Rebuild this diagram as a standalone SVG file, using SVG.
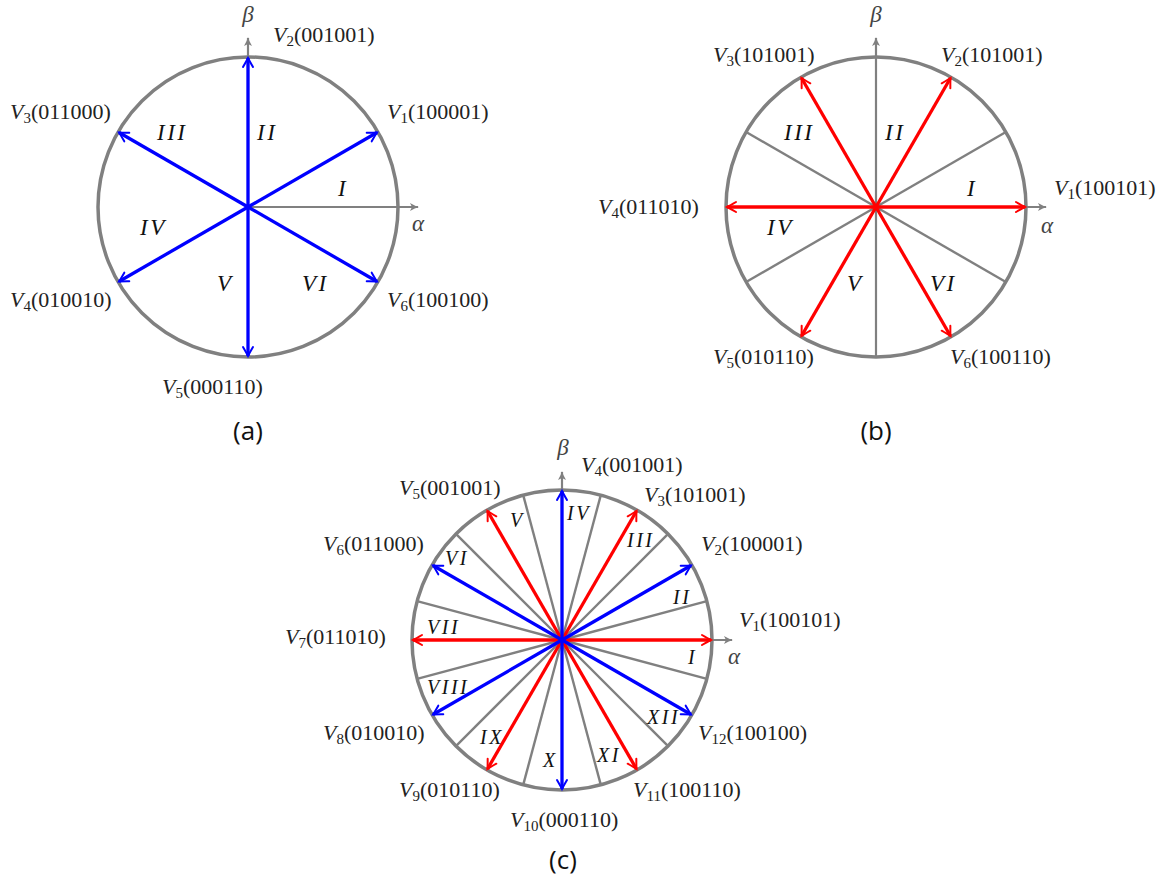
<svg xmlns="http://www.w3.org/2000/svg" width="1159" height="880" viewBox="0 0 1159 880">
<defs>
<style>
.circ{fill:none;stroke:#808080;stroke-width:3.5}
.gl{stroke:#808080;stroke-width:2.4;fill:none}
.ax{stroke:#808080;stroke-width:2.2;fill:none;marker-end:url(#mg)}
.bl{stroke:#0000ff;stroke-width:3.3;fill:none;marker-end:url(#mb)}
.rd{stroke:#ff0000;stroke-width:3.3;fill:none;marker-end:url(#mr)}
.lab{font-family:"Liberation Serif",serif;font-size:22px;fill:#222}
.lab .v{font-style:italic}
.sec{font-family:"Liberation Serif",serif;font-size:23px;font-style:italic;letter-spacing:2.5px;fill:#111}
.sec2{font-family:"Liberation Serif",serif;font-size:20px;font-style:italic;letter-spacing:2.5px;fill:#111}
.gk{font-family:"Liberation Serif",serif;font-size:23px;font-style:italic;fill:#444;text-anchor:middle}
.cap{font-family:"Open Sans",sans-serif;font-size:26px;fill:#111;text-anchor:middle}
</style>
<marker id="mb" viewBox="-10 -6 12 12" markerWidth="12" markerHeight="12" refX="0" refY="0" orient="auto" markerUnits="userSpaceOnUse" overflow="visible"><path d="M-9,-5 Q-3,-1.5 0,0 Q-3,1.5 -9,5" fill="none" stroke="#0000ff" stroke-width="2" stroke-linecap="round"/></marker>
<marker id="mr" viewBox="-10 -6 12 12" markerWidth="12" markerHeight="12" refX="0" refY="0" orient="auto" markerUnits="userSpaceOnUse" overflow="visible"><path d="M-9,-5 Q-3,-1.5 0,0 Q-3,1.5 -9,5" fill="none" stroke="#ff0000" stroke-width="2" stroke-linecap="round"/></marker>
<marker id="mg" viewBox="-10 -6 12 12" markerWidth="12" markerHeight="12" refX="0" refY="0" orient="auto" markerUnits="userSpaceOnUse" overflow="visible"><path d="M-8,-4 Q-3,-1 1,0 Q-3,1 -8,4 L-6,0 Z" fill="#808080" stroke="none"/></marker>
</defs>
<rect width="1159" height="880" fill="#fff"/>

<!-- Panel (a) -->
<g id="panel-a">
<circle class="circ" cx="248" cy="207" r="150"/>
<g id="connectors-a">
<line class="ax" x1="248" y1="207" x2="418" y2="207"/>
<line class="ax" x1="248" y1="207" x2="248" y2="38"/>
<line class="bl" x1="248" y1="207" x2="377" y2="132.5"/>
<line class="bl" x1="248" y1="207" x2="248" y2="58"/>
<line class="bl" x1="248" y1="207" x2="119" y2="132.5"/>
<line class="bl" x1="248" y1="207" x2="119" y2="281.5"/>
<line class="bl" x1="248" y1="207" x2="248" y2="356"/>
<line class="bl" x1="248" y1="207" x2="377" y2="281.5"/>
</g>
<g id="labels-a">
<text class="gk" x="248" y="22">β</text>
<text class="gk" x="418" y="231">α</text>
<text class="lab" x="273" y="42"><tspan class="v">V</tspan><tspan font-size="15" dy="4">2</tspan><tspan dy="-4">(001001)</tspan></text>
<text class="lab" x="387" y="119"><tspan class="v">V</tspan><tspan font-size="15" dy="4">1</tspan><tspan dy="-4">(100001)</tspan></text>
<text class="lab" x="10" y="119"><tspan class="v">V</tspan><tspan font-size="15" dy="4">3</tspan><tspan dy="-4">(011000)</tspan></text>
<text class="lab" x="10" y="307"><tspan class="v">V</tspan><tspan font-size="15" dy="4">4</tspan><tspan dy="-4">(010010)</tspan></text>
<text class="lab" x="387" y="307"><tspan class="v">V</tspan><tspan font-size="15" dy="4">6</tspan><tspan dy="-4">(100100)</tspan></text>
<text class="lab" x="162" y="394"><tspan class="v">V</tspan><tspan font-size="15" dy="4">5</tspan><tspan dy="-4">(000110)</tspan></text>
<text class="sec" x="157" y="140">III</text>
<text class="sec" x="257" y="140">II</text>
<text class="sec" x="338" y="196">I</text>
<text class="sec" x="140" y="235">IV</text>
<text class="sec" x="217" y="291">V</text>
<text class="sec" x="302" y="291">VI</text>
<text class="cap" x="248" y="440">(a)</text>
</g>
</g>

<!-- Panel (b) -->
<g id="panel-b">
<circle class="circ" cx="876" cy="207" r="150"/>
<g id="connectors-b">
<line class="gl" x1="876" y1="207" x2="1005.9" y2="132"/>
<line class="gl" x1="876" y1="207" x2="746.1" y2="132"/>
<line class="gl" x1="876" y1="207" x2="746.1" y2="282"/>
<line class="gl" x1="876" y1="207" x2="1005.9" y2="282"/>
<line class="ax" x1="876" y1="357" x2="876" y2="38"/>
<line class="ax" x1="876" y1="207" x2="1046" y2="207"/>
<line class="rd" x1="876" y1="207" x2="1025" y2="207"/>
<line class="rd" x1="876" y1="207" x2="950.5" y2="78"/>
<line class="rd" x1="876" y1="207" x2="801.5" y2="78"/>
<line class="rd" x1="876" y1="207" x2="727" y2="207"/>
<line class="rd" x1="876" y1="207" x2="801.5" y2="336"/>
<line class="rd" x1="876" y1="207" x2="950.5" y2="336"/>
</g>
<g id="labels-b">
<text class="gk" x="876" y="22">β</text>
<text class="gk" x="1047" y="233">α</text>
<text class="lab" x="713" y="62"><tspan class="v">V</tspan><tspan font-size="15" dy="4">3</tspan><tspan dy="-4">(101001)</tspan></text>
<text class="lab" x="941" y="62"><tspan class="v">V</tspan><tspan font-size="15" dy="4">2</tspan><tspan dy="-4">(101001)</tspan></text>
<text class="lab" x="1054" y="195"><tspan class="v">V</tspan><tspan font-size="15" dy="4">1</tspan><tspan dy="-4">(100101)</tspan></text>
<text class="lab" x="598" y="214"><tspan class="v">V</tspan><tspan font-size="15" dy="4">4</tspan><tspan dy="-4">(011010)</tspan></text>
<text class="lab" x="713" y="364"><tspan class="v">V</tspan><tspan font-size="15" dy="4">5</tspan><tspan dy="-4">(010110)</tspan></text>
<text class="lab" x="950" y="364"><tspan class="v">V</tspan><tspan font-size="15" dy="4">6</tspan><tspan dy="-4">(100110)</tspan></text>
<text class="sec" x="784" y="140">III</text>
<text class="sec" x="885" y="140">II</text>
<text class="sec" x="967" y="196">I</text>
<text class="sec" x="767" y="235">IV</text>
<text class="sec" x="847" y="291">V</text>
<text class="sec" x="930" y="291">VI</text>
<text class="cap" x="876" y="440">(b)</text>
</g>
</g>

<!-- Panel (c) -->
<g id="panel-c">
<circle class="circ" cx="562" cy="640" r="150"/>
<g id="connectors-c">
<line class="gl" x1="562" y1="640" x2="706.9" y2="601.2"/>
<line class="gl" x1="562" y1="640" x2="668.1" y2="533.9"/>
<line class="gl" x1="562" y1="640" x2="600.8" y2="495.1"/>
<line class="gl" x1="562" y1="640" x2="523.2" y2="495.1"/>
<line class="gl" x1="562" y1="640" x2="455.9" y2="533.9"/>
<line class="gl" x1="562" y1="640" x2="417.1" y2="601.2"/>
<line class="gl" x1="562" y1="640" x2="417.1" y2="678.8"/>
<line class="gl" x1="562" y1="640" x2="455.9" y2="746.1"/>
<line class="gl" x1="562" y1="640" x2="523.2" y2="784.9"/>
<line class="gl" x1="562" y1="640" x2="600.8" y2="784.9"/>
<line class="gl" x1="562" y1="640" x2="668.1" y2="746.1"/>
<line class="gl" x1="562" y1="640" x2="706.9" y2="678.8"/>
<line class="ax" x1="562" y1="640" x2="732" y2="640"/>
<line class="ax" x1="562" y1="640" x2="562" y2="472"/>
<line class="rd" x1="562" y1="640" x2="711" y2="640"/>
<line class="rd" x1="562" y1="640" x2="636.5" y2="511"/>
<line class="rd" x1="562" y1="640" x2="487.5" y2="511"/>
<line class="rd" x1="562" y1="640" x2="413" y2="640"/>
<line class="rd" x1="562" y1="640" x2="487.5" y2="769"/>
<line class="rd" x1="562" y1="640" x2="636.5" y2="769"/>
<line class="bl" x1="562" y1="640" x2="691" y2="565.5"/>
<line class="bl" x1="562" y1="640" x2="562" y2="491"/>
<line class="bl" x1="562" y1="640" x2="433" y2="565.5"/>
<line class="bl" x1="562" y1="640" x2="433" y2="714.5"/>
<line class="bl" x1="562" y1="640" x2="562" y2="789"/>
<line class="bl" x1="562" y1="640" x2="691" y2="714.5"/>
</g>
<g id="labels-c">
<text class="gk" x="563" y="455">β</text>
<text class="gk" x="734" y="664">α</text>
<text class="lab" x="581" y="472"><tspan class="v">V</tspan><tspan font-size="15" dy="4">4</tspan><tspan dy="-4">(001001)</tspan></text>
<text class="lab" x="399" y="495"><tspan class="v">V</tspan><tspan font-size="15" dy="4">5</tspan><tspan dy="-4">(001001)</tspan></text>
<text class="lab" x="644" y="502"><tspan class="v">V</tspan><tspan font-size="15" dy="4">3</tspan><tspan dy="-4">(101001)</tspan></text>
<text class="lab" x="323" y="551"><tspan class="v">V</tspan><tspan font-size="15" dy="4">6</tspan><tspan dy="-4">(011000)</tspan></text>
<text class="lab" x="701" y="551"><tspan class="v">V</tspan><tspan font-size="15" dy="4">2</tspan><tspan dy="-4">(100001)</tspan></text>
<text class="lab" x="739" y="627"><tspan class="v">V</tspan><tspan font-size="15" dy="4">1</tspan><tspan dy="-4">(100101)</tspan></text>
<text class="lab" x="285" y="644"><tspan class="v">V</tspan><tspan font-size="15" dy="4">7</tspan><tspan dy="-4">(011010)</tspan></text>
<text class="lab" x="323" y="740"><tspan class="v">V</tspan><tspan font-size="15" dy="4">8</tspan><tspan dy="-4">(010010)</tspan></text>
<text class="lab" x="698" y="740"><tspan class="v">V</tspan><tspan font-size="15" dy="4">12</tspan><tspan dy="-4">(100100)</tspan></text>
<text class="lab" x="399" y="797"><tspan class="v">V</tspan><tspan font-size="15" dy="4">9</tspan><tspan dy="-4">(010110)</tspan></text>
<text class="lab" x="633" y="797"><tspan class="v">V</tspan><tspan font-size="15" dy="4">11</tspan><tspan dy="-4">(100110)</tspan></text>
<text class="lab" x="510" y="827"><tspan class="v">V</tspan><tspan font-size="15" dy="4">10</tspan><tspan dy="-4">(000110)</tspan></text>
<text class="sec2" x="567" y="520">IV</text>
<text class="sec2" x="510" y="527">V</text>
<text class="sec2" x="627" y="547">III</text>
<text class="sec2" x="445" y="565">VI</text>
<text class="sec2" x="673" y="604">II</text>
<text class="sec2" x="427" y="634">VII</text>
<text class="sec2" x="688" y="664">I</text>
<text class="sec2" x="427" y="694">VIII</text>
<text class="sec2" x="647" y="724">XII</text>
<text class="sec2" x="480" y="744">IX</text>
<text class="sec2" x="597" y="762">XI</text>
<text class="sec2" x="543" y="767">X</text>
<text class="cap" x="563" y="869">(c)</text>
</g>
</g>
</svg>
